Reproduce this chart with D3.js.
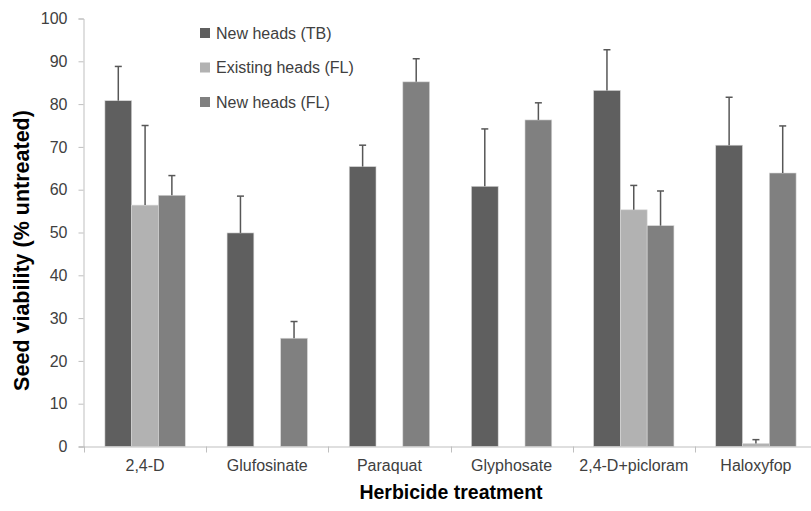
<!DOCTYPE html>
<html>
<head>
<meta charset="utf-8">
<script src="https://cdnjs.cloudflare.com/ajax/libs/d3/7.8.5/d3.min.js"></script>
<style>
  body { margin: 0; background: #fff; }
  svg text { font-family: "Liberation Sans", Arial, sans-serif; fill: #404040; }
</style>
</head>
<body>
<div class="svg-container"></div>
<script>
const categories = ['2,4-D', 'Glufosinate', 'Paraquat', 'Glyphosate', '2,4-D+picloram', 'Haloxyfop'];
const seriesNames = ['New heads (TB)', 'Existing heads (FL)', 'New heads (FL)'];
const newHeadsTB = [80.8, 49.9, 65.4, 60.8, 83.2, 70.4];
const newHeadsTBErr = [8.0, 8.6, 5.0, 13.4, 9.5, 11.2];
const existingFL = [56.4, null, null, null, 55.3, 0.7];
const existingFLErr = [18.6, null, null, null, 5.7, 0.9];
const newHeadsFL = [58.7, 25.3, 85.2, 76.3, 51.6, 63.9];
const newHeadsFLErr = [4.6, 3.9, 5.4, 4.0, 8.1, 11.0];
const yTicks = [0, 10, 20, 30, 40, 50, 60, 70, 80, 90, 100];

const colors = ['#5f5f5f', '#b2b2b2', '#808080'];

const outerWidth = 811;
const outerHeight = 511;
const margin = { left: 84, top: 18.5, right: -6, bottom: 64.5 };
const innerHeight = outerHeight - margin.top - margin.bottom;

const svg = d3.select('.svg-container')
.append('svg')
.attr('width', outerWidth)
.attr('height', outerHeight);

const values = [newHeadsTB, existingFL, newHeadsFL];
const errors = [newHeadsTBErr, existingFLErr, newHeadsFLErr];

const data = [];
categories.forEach((c, i) => {
  seriesNames.forEach((s, j) => {
    if (values[j][i] !== null) {
      data.push({ cat: c, series: s, idx: j, value: values[j][i], err: errors[j][i] });
    }
  });
});

const xScale = d3.scaleBand()
.domain(categories)
.range([margin.left, outerWidth - margin.right])
.padding(0);

const x1 = d3.scaleBand()
.domain(seriesNames)
.range([0, xScale.bandwidth()])
.paddingInner(0)
.paddingOuter(0.78);

const yScale = d3.scaleLinear()
.domain([0, 100])
.range([margin.top + innerHeight, margin.top]);

// y axis
const yAxis = d3.axisLeft(yScale).tickValues(yTicks).tickSize(5).tickPadding(11);
const yg = svg.append('g')
.attr('transform', `translate(${margin.left - 0.5}, 0)`)
.call(yAxis);
yg.select('.domain').attr('stroke', '#bfbfbf');
yg.selectAll('.tick line').attr('stroke', '#bfbfbf');
yg.selectAll('.tick text').style('font-size', '16px').attr('fill', '#404040');

// bars
svg.selectAll('rect.bar')
.data(data)
.enter()
.append('rect')
.attr('class', 'bar')
.attr('x', d => xScale(d.cat) + x1(d.series))
.attr('y', d => yScale(d.value))
.attr('width', x1.bandwidth())
.attr('height', d => yScale(0) - yScale(d.value))
.attr('fill', d => colors[d.idx])
.attr('stroke', '#d9d9d9')
.attr('stroke-width', 0.6);

// error bars
const eb = svg.selectAll('g.err')
.data(data)
.enter()
.append('g')
.attr('class', 'err')
.attr('stroke', '#575757')
.attr('stroke-width', 1.5);

eb.append('line')
.attr('x1', d => xScale(d.cat) + x1(d.series) + x1.bandwidth() / 2)
.attr('x2', d => xScale(d.cat) + x1(d.series) + x1.bandwidth() / 2)
.attr('y1', d => yScale(d.value))
.attr('y2', d => yScale(d.value + d.err));

eb.append('line')
.attr('x1', d => xScale(d.cat) + x1(d.series) + x1.bandwidth() / 2 - 3.5)
.attr('x2', d => xScale(d.cat) + x1(d.series) + x1.bandwidth() / 2 + 3.5)
.attr('y1', d => yScale(d.value + d.err))
.attr('y2', d => yScale(d.value + d.err));

// x axis
const xAxis = d3.axisBottom(xScale).tickSize(0).tickPadding(13);
const xg = svg.append('g')
.attr('transform', `translate(0, ${yScale(0) + 0.5})`)
.call(xAxis);
xg.select('.domain').attr('stroke', '#bfbfbf').attr('d', `M${margin.left - 5},0H${outerWidth}`);
xg.selectAll('.tick text').style('font-size', '16px').attr('fill', '#404040');

// category separators
svg.append('g')
.selectAll('line')
.data(categories)
.enter()
.append('line')
.attr('x1', d => Math.round(xScale(d)) + 0.5)
.attr('x2', d => Math.round(xScale(d)) + 0.5)
.attr('y1', yScale(0))
.attr('y2', yScale(0) + 6)
.attr('stroke', '#bfbfbf');

// axis titles
svg.append('text')
.attr('transform', 'translate(29, 250.5) rotate(-90)')
.attr('text-anchor', 'middle')
.style('font-size', '21.5px')
.style('font-weight', 'bold')
.style('fill', '#000')
.text('Seed viability (% untreated)');

svg.append('text')
.attr('x', 451)
.attr('y', 499)
.attr('text-anchor', 'middle')
.style('font-size', '19.5px')
.style('font-weight', 'bold')
.style('fill', '#000')
.text('Herbicide treatment');

// legend
const legend = svg.append('g')
.attr('transform', 'translate(200, 28)');

const items = legend.selectAll('g')
.data(seriesNames)
.enter()
.append('g')
.attr('transform', (d, i) => `translate(0, ${i * 34.5})`);

items.append('rect')
.attr('width', 10)
.attr('height', 10)
.attr('fill', (d, i) => colors[i]);

items.append('text')
.attr('x', 16)
.attr('y', 10.5)
.style('font-size', '16px')
.text(d => d);
</script>
</body>
</html>
